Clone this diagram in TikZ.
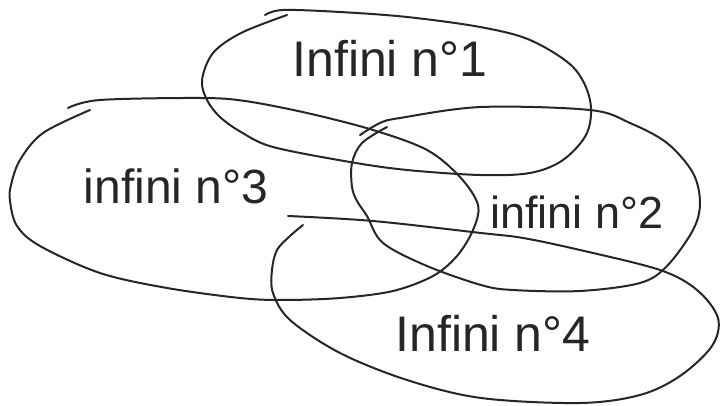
\documentclass[tikz,border=0pt]{standalone}
\usepackage{fontspec}
\setmainfont{Liberation Sans}
\begin{document}
\begin{tikzpicture}[x=1pt,y=-1pt,
  loop/.style={draw=black!85, line width=2pt, line cap=round, line join=round},
  lbl/.style={font=\fontsize{50}{54}\selectfont, inner sep=0pt, text=black!85}]
\useasboundingbox[fill=white] (0,0) rectangle (721,406);
% loop 1 (top)
\draw[loop] plot[smooth, tension=0.55] coordinates {(265,15) (283,10) (340,12) (407,17) (480,27) (530,40) (573,67) (590,100) (587,133) (563,160) (530,173) (480,175) (407,170) (350,162) (273,147) (241,132) (220,117) (207,100) (202,80) (213,53) (241,33) (287,15)};
% loop 3 (left)
\draw[loop] plot[smooth, tension=0.55] coordinates {(68,108) (100,100) (200,98) (245,101) (307,113) (373,130) (427,150) (460,177) (478,205) (473,230) (457,256) (433,276) (393,291) (340,298) (283,300) (240,298) (167,288) (100,273) (40,246) (17,226) (10,201) (11,185) (20,160) (43,133) (90,110)};
% loop 2 (right)
\draw[loop] plot[smooth, tension=0.55] coordinates {(360,135) (380,123) (400,118) (481,107) (590,110) (630,123) (667,143) (693,173) (700,203) (693,230) (667,266) (640,283) (580,291) (513,290) (481,285) (427,266) (383,243) (367,216) (357,201) (352,187) (352,163) (362,143) (387,127)};
% loop 4 (bottom)
\draw[loop] plot[smooth, tension=0.55] coordinates {(288,216) (373,221) (481,233) (523,238) (580,250) (660,270) (697,290) (718,318) (712,346) (680,376) (640,395) (580,403) (481,398) (407,380) (340,353) (290,320) (273,293) (272,270) (277,250) (290,236) (303,225)};
\node[lbl] (t1) at (390,58) {Infini n°1};
\node[lbl, font=\fontsize{48}{52}\selectfont] (t3) at (176,186) {infini n°3};
\node[lbl, font=\fontsize{45}{50}\selectfont] (t2) at (577,212) {infini n°2};
\node[lbl] (t4) at (493,333) {Infini n°4};
\end{tikzpicture}
\end{document}
